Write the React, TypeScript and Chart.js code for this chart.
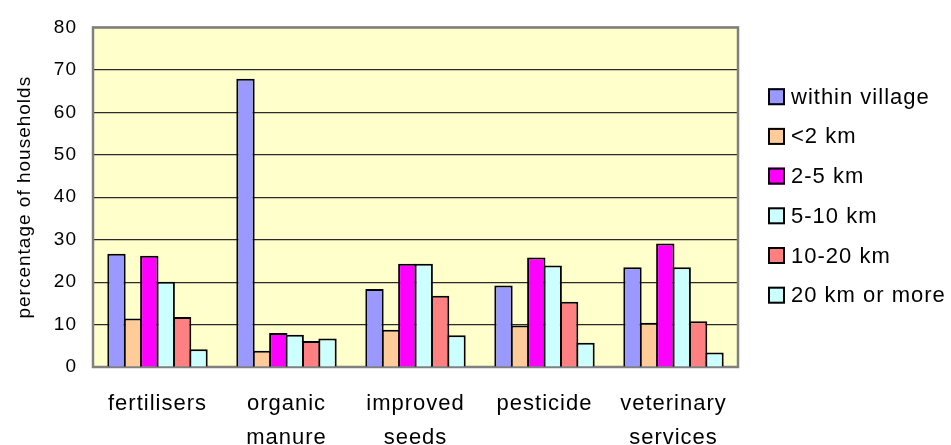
import React, { useEffect, useRef } from 'react';
import { Chart, registerables } from 'chart.js';

Chart.register(...registerables);

const categories: string[][] = [
  ['fertilisers'],
  ['organic', 'manure'],
  ['improved', 'seeds'],
  ['pesticide'],
  ['veterinary', 'services'],
];
const seriesNames = ['within village', '<2 km', '2-5 km', '5-10 km', '10-20 km', '20 km or more'];
const withinVillage = [26.7, 67.9, 18.4, 19.2, 23.5];
const under2km = [11.4, 3.8, 8.8, 9.8, 10.4];
const km2to5 = [26.2, 8.0, 24.3, 25.8, 29.1];
const km5to10 = [20.1, 7.6, 24.3, 23.9, 23.5];
const km10to20 = [11.8, 6.1, 16.8, 15.4, 10.8];
const km20plus = [4.2, 6.7, 7.5, 5.7, 3.4];
const seriesValues = [withinVillage, under2km, km2to5, km5to10, km10to20, km20plus];
const seriesColors = ['#9999FF', '#FFCC99', '#FF00FF', '#CCFFFF', '#FF8080', '#CCFFFF'];
const yMin = 0;
const yMax = 80;
const yStep = 10;
const yTitle = 'percentage of households';

const FONT = '"Liberation Sans", Arial, Helvetica, sans-serif';
const SPACING = '1px';

const plotPlugin = {
  id: 'plotBg',
  beforeDraw(chart: any) {
    const { ctx, chartArea } = chart;
    ctx.letterSpacing = SPACING;
    ctx.save();
    ctx.fillStyle = '#FFFFCC';
    ctx.fillRect(chartArea.left, chartArea.top, chartArea.right - chartArea.left, chartArea.bottom - chartArea.top);
    ctx.restore();
  },
  beforeDatasetsDraw(chart: any) {
    const { ctx, chartArea } = chart;
    ctx.save();
    ctx.strokeStyle = '#808080';
    ctx.lineWidth = 2.5;
    ctx.strokeRect(chartArea.left, chartArea.top, chartArea.right - chartArea.left, chartArea.bottom - chartArea.top);
    ctx.restore();
  },
  afterDraw(chart: any) {
    const { ctx } = chart;
    const x0 = 768;
    const yStart = 96.7;
    const gap = 39.7;
    const size = 17;
    ctx.save();
    ctx.letterSpacing = SPACING;
    ctx.font = `22px ${FONT}`;
    ctx.textBaseline = 'middle';
    ctx.textAlign = 'left';
    chart.data.datasets.forEach((ds: any, i: number) => {
      const cy = yStart + i * gap;
      ctx.fillStyle = ds.backgroundColor;
      ctx.fillRect(x0, cy - size / 2, size, size);
      ctx.strokeStyle = '#000';
      ctx.lineWidth = 2;
      ctx.strokeRect(x0 + 1, cy - size / 2 + 1, size - 2, size - 2);
      ctx.fillStyle = '#000';
      ctx.fillText(ds.label, x0 + 23, cy + 1);
    });
    ctx.restore();
  },
};

export default function App() {
  const ref = useRef<HTMLCanvasElement | null>(null);
  useEffect(() => {
    if (!ref.current) return;
    const chart = new Chart(ref.current, {
      type: 'bar',
      data: {
        labels: categories,
        datasets: seriesNames.map((name, i) => ({
          label: name,
          data: seriesValues[i],
          backgroundColor: seriesColors[i],
          borderColor: '#000',
          borderWidth: 2,
          barPercentage: 1.12,
          categoryPercentage: 0.763,
        })),
      },
      options: {
        responsive: false,
        animation: false,
        layout: { padding: { left: 0, top: 25, right: 213, bottom: 0 } },
        plugins: {
          legend: { display: false },
          tooltip: { enabled: false },
        },
        scales: {
          x: {
            afterFit: (s: any) => { s.height = 78; },
            grid: { display: false, drawTicks: false },
            border: { display: false },
            ticks: {
              color: '#000',
              autoSkip: false,
              maxRotation: 0,
              padding: 20,
              font: { family: FONT, size: 22, lineHeight: '34px' as any },
            },
          },
          y: {
            min: yMin,
            max: yMax,
            afterFit: (s: any) => { s.width = 93; },
            grid: { color: '#2a2a2a', lineWidth: 1.2, drawTicks: false },
            border: { display: false },
            ticks: {
              stepSize: yStep,
              color: '#000',
              padding: 16,
              font: { family: FONT, size: 19 },
            },
            title: {
              display: true,
              text: yTitle,
              color: '#000',
              padding: { top: 13, bottom: 0 },
              font: { family: FONT, size: 19 },
            },
          },
        },
      },
      plugins: [plotPlugin],
    });
    return () => chart.destroy();
  }, []);
  return (
    <div style={{ position: 'absolute', left: 0, top: 0, width: 951, height: 445 }}>
      <canvas ref={ref} width={951} height={445} />
    </div>
  );
}
